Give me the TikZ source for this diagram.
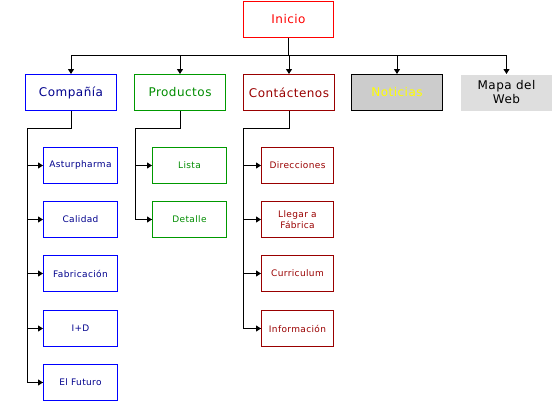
\documentclass[tikz,border=0pt]{standalone}
\usepackage{fontspec}
\setmainfont{DejaVu Sans}[LetterSpace=4]
\usetikzlibrary{arrows.meta}
\definecolor{cblue}{RGB}{0,0,255}
\definecolor{cnavy}{RGB}{0,0,140}
\definecolor{cgreen}{RGB}{0,153,0}
\definecolor{cgreentxt}{RGB}{0,140,0}
\definecolor{cred}{RGB}{255,0,0}
\definecolor{cdred}{RGB}{153,0,0}
\definecolor{cgray}{RGB}{204,204,204}
\definecolor{cyel}{RGB}{255,255,0}
\definecolor{cmapa}{RGB}{222,222,222}
\begin{document}
\begin{tikzpicture}[x=1pt,y=-1pt,
  topbox/.style={draw, line width=1pt, minimum width=91pt, minimum height=36pt, inner sep=0pt, font=\fontsize{12}{13.5}\selectfont, align=center},
  subbox/.style={draw, line width=1pt, minimum width=74pt, minimum height=36pt, inner sep=0pt, font=\fontsize{9}{11.5}\selectfont, align=center},
  conn/.style={line width=1pt, black},
  arr/.style={conn, -{Triangle[length=5pt,width=6pt]}}]
\useasboundingbox (0,0) rectangle (552,402);
% top
\node[topbox, draw=cred, text=cred, minimum width=90pt] (inicio) at (288.5,19.5) {Inicio};
\node[topbox, draw=cblue, text=cnavy] (comp) at (71,92.5) {Compañía};
\node[topbox, draw=cgreen, text=cgreentxt] (prod) at (180,92.5) {Productos};
\node[topbox, draw=cdred, text=cdred] (cont) at (289,92.5) {Contáctenos};
\node[topbox, draw=black, fill=cgray, text=cyel] (not) at (397,92.5) {Noticias};
\node[topbox, draw=none, fill=cmapa, text=black, minimum width=92pt, font=\fontsize{12}{14}\selectfont] (mapa) at (506.5,92.5) {Mapa del\\Web};
\coordinate (bus) at (288.5,55.5);
\draw[conn] (inicio.south) -- (bus);
\foreach \n in {comp,prod,cont,not,mapa}{
  \draw[arr] (bus) -| (\n.north);
}
% Compania children
\node[subbox, draw=cblue, text=cnavy] (ast) at (80.5,165.5) {Asturpharma};
\node[subbox, draw=cblue, text=cnavy] (cal) at (80.5,219.5) {Calidad};
\node[subbox, draw=cblue, text=cnavy] (fab) at (80.5,273.5) {Fabricación};
\node[subbox, draw=cblue, text=cnavy] (imd) at (80.5,328.5) {I+D};
\node[subbox, draw=cblue, text=cnavy] (fut) at (80.5,382.5) {El Futuro};
\coordinate (c1) at (71,128.5);
\coordinate (c2) at (27.5,128.5);
\draw[conn] (comp.south) -- (c1) -- (c2) |- (fut.west);
\foreach \n in {ast,cal,fab,imd,fut}{
  \draw[arr] (c2 |- \n.west) -- (\n.west);
}
% Productos children
\node[subbox, draw=cgreen, text=cgreentxt] (lis) at (189.5,165.5) {Lista};
\node[subbox, draw=cgreen, text=cgreentxt] (det) at (189.5,219.5) {Detalle};
\coordinate (p1) at (180,128.5);
\coordinate (p2) at (135.5,128.5);
\draw[conn] (prod.south) -- (p1) -- (p2) |- (det.west);
\foreach \n in {lis,det}{
  \draw[arr] (p2 |- \n.west) -- (\n.west);
}
% Contactenos children
\node[subbox, draw=cdred, text=cdred, minimum width=72pt] (dir) at (297.5,165.5) {Direcciones};
\node[subbox, draw=cdred, text=cdred, minimum width=72pt] (lle) at (297.5,219.5) {Llegar a\\Fábrica};
\node[subbox, draw=cdred, text=cdred, minimum width=72pt] (cur) at (297.5,273.5) {Curriculum};
\node[subbox, draw=cdred, text=cdred, minimum width=72pt] (inf) at (297.5,328.5) {Información};
\coordinate (k1) at (289,128.5);
\coordinate (k2) at (243.5,128.5);
\draw[conn] (cont.south) -- (k1) -- (k2) |- (inf.west);
\foreach \n in {dir,lle,cur,inf}{
  \draw[arr] (k2 |- \n.west) -- (\n.west);
}
\end{tikzpicture}
\end{document}
